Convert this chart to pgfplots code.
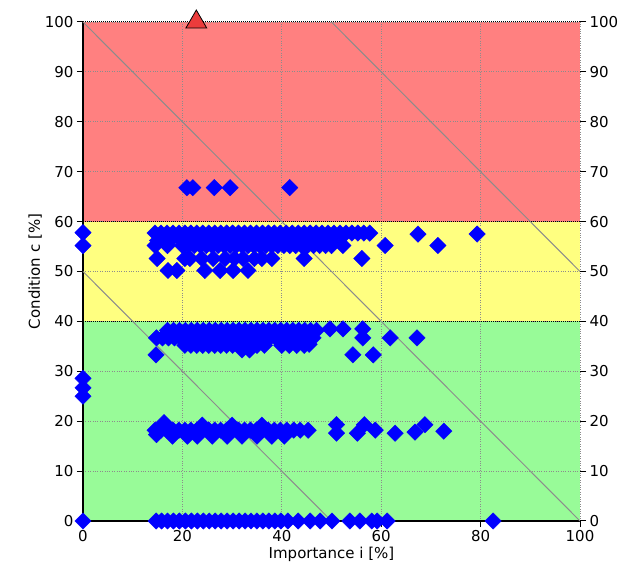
\documentclass[border=0pt]{standalone}
\usepackage{fontspec}
\setmainfont{DejaVu Sans}
\usepackage{pgfplots}
\pgfplotsset{compat=1.18}
\definecolor{bandred}{RGB}{255,128,128}
\definecolor{bandyel}{RGB}{255,255,128}
\definecolor{bandgrn}{RGB}{152,251,152}
\definecolor{diag}{RGB}{140,140,140}
\definecolor{tri}{RGB}{235,60,60}
\pgfplotsset{
  layers/mylayers/.define layer set={axis background,axis grid,main,axis ticks,axis lines,axis tick labels,axis descriptions,axis foreground}{},
}
\begin{document}
\begin{tikzpicture}
\begin{axis}[
  name=main,
  set layers=mylayers,
  scale only axis, width=497pt, height=499pt,
  xmin=0, xmax=100, ymin=0, ymax=100,
  clip=false,
  axis x line*=bottom, axis y line*=left,
  xtick={0,20,...,100}, ytick={0,10,...,100},
  grid=major, grid style={gray!90, dotted, line width=0.9pt},
  tick align=outside, major tick length=6pt,
  axis line style={line width=1.6pt, -},
  tick style={black, line width=1pt},
  /pgf/number format/assume math mode=true,
  ticklabel style={font=\fontsize{15}{18}\selectfont},
  label style={font=\fontsize{15}{18}\selectfont},
  xlabel={Importance i [\%]},
  ylabel={Condition c [\%]},
  xlabel style={yshift=2pt},
  ylabel style={yshift=-4pt},
]
% bands
\addplot[on layer=axis background, fill=bandgrn, draw=none] coordinates {(0,0) (100,0) (100,40) (0,40)} -- cycle;
\addplot[on layer=axis background, fill=bandyel, draw=none] coordinates {(0,40) (100,40) (100,60) (0,60)} -- cycle;
\addplot[on layer=axis background, fill=bandred, draw=none] coordinates {(0,60) (100,60) (100,100) (0,100)} -- cycle;
% boundaries
\addplot[black, densely dotted, line width=1pt, no markers] coordinates {(0,40) (100,40)};
\addplot[black, densely dotted, line width=1pt, no markers] coordinates {(0,60) (100,60)};
\addplot[black, densely dotted, line width=1pt, no markers] coordinates {(0,100) (100,100)};
% diagonals
\addplot[diag, line width=1pt, no markers] coordinates {(0,50) (50,0)};
\addplot[diag, line width=1pt, no markers] coordinates {(0,100) (100,0)};
\addplot[diag, line width=1pt, no markers] coordinates {(50,100) (100,50)};
% data points
\addplot[only marks, mark=square*, mark size=5.8pt, mark options={rotate=45, fill=blue, draw=blue}] coordinates {
(0,0) (14.7,0) (15.8,0) (17,0) (18.2,0) (19.4,0) (20.6,0) (21.8,0) (23,0) (24.2,0) (25.4,0) (26.6,0) (27.8,0) (29,0) (30.2,0) (31.4,0) (32.6,0) (33.8,0) (35,0) (36.2,0) (37.4,0) (38.6,0) (39.8,0) (41.2,0) (43.3,0) (45.7,0) (47.7,0) (50.1,0) (53.7,0) (55.7,0) (58.1,0) (59.2,0) (61.2,0) (82.5,0)
(14.5,18.2) (15.7,18.2) (16.9,18.2) (18.1,18.2) (19.3,18.2) (20.5,18.2) (21.7,18.2) (22.9,18.2) (24.1,18.2) (25.3,18.2) (26.5,18.2) (27.7,18.2) (28.9,18.2) (30.1,18.2) (31.3,18.2) (32.5,18.2) (33.7,18.2) (34.9,18.2) (36.1,18.2) (37.3,18.2) (38.5,18.2) (39.7,18.2) (41,18.2) (42.4,18.2) (43.7,18.2) (45.3,18.2)
(16.3,19.7) (24,19.2) (30,19.2) (36,19.2)
(14.8,17.3) (18,17) (21,17) (23,17) (26,17) (29,17) (32,17) (35,17) (38,17) (40.5,17)
(51,19.3) (51,17.6) (55.2,17.6) (56.6,19.3) (58.8,18.2) (62.8,17.6) (66.8,17.8) (68.8,19.3) (72.6,18)
(0,25) (0,26.7) (0,28.6) (0,55.2) (0,57.8)
(17,38.2) (18.2,38.2) (19.4,38.2) (20.6,38.2) (21.8,38.2) (23,38.2) (24.2,38.2) (25.4,38.2) (26.6,38.2) (27.8,38.2) (29,38.2) (30.2,38.2) (31.4,38.2) (32.6,38.2) (33.8,38.2) (35,38.2) (36.2,38.2) (37.4,38.2) (38.6,38.2) (39.8,38.2) (41,38.2) (42.2,38.2) (43.4,38.2) (44.6,38.2) (45.8,38.2) (47,38.2) (49.7,38.5) (52.3,38.5) (56.3,38.5)
(14.8,36.7) (16,36.7) (17.2,36.7) (18.4,36.7) (19.6,36.7) (20.8,36.7) (22,36.7) (23.2,36.7) (24.4,36.7) (25.6,36.7) (26.8,36.7) (28,36.7) (29.2,36.7) (30.4,36.7) (31.6,36.7) (32.8,36.7) (34,36.7) (35.2,36.7) (36.4,36.7) (37.6,36.7) (38.8,36.7) (40,36.7) (41.2,36.7) (42.4,36.7) (43.6,36.7) (44.8,36.7) (46.3,36.7) (56.3,36.7) (61.8,36.7) (67.2,36.7)
(20.5,35.2) (21.7,35.2) (22.9,35.2) (24.1,35.2) (25.3,35.2) (26.5,35.2) (27.7,35.2) (28.9,35.2) (30.1,35.2) (31.3,35.2) (35,35.2) (36.5,35.2) (40,35.2) (41.5,35.2) (43,35.2) (44.5,35.2) (45.5,35.4)
(32,34.3) (33.5,34.3)
(14.7,33.3) (54.3,33.3) (58.4,33.3)
(14.5,57.7) (15.7,57.7) (16.9,57.7) (18.1,57.7) (19.3,57.7) (20.5,57.7) (21.7,57.7) (22.9,57.7) (24.1,57.7) (25.3,57.7) (26.5,57.7) (27.7,57.7) (28.9,57.7) (30.1,57.7) (31.3,57.7) (32.5,57.7) (33.7,57.7) (34.9,57.7) (36.1,57.7) (37.3,57.7) (38.5,57.7) (39.7,57.7) (40.9,57.7) (42.1,57.7) (43.3,57.7) (44.5,57.7) (45.7,57.7) (46.9,57.7) (48.1,57.7) (49.3,57.7) (50.5,57.7) (51.7,57.7) (52.9,57.7) (54.1,57.7) (55.3,57.7) (56.5,57.7) (57.7,57.7) (67.4,57.5) (79.3,57.5)
(15,56.2) (17.5,56.2) (20,56.2) (22.5,56.2) (25,56.2) (27.5,56.2) (30,56.2) (32.5,56.2) (35,56.2) (37.5,56.2) (40,56.2) (42.5,56.2) (45,56.2) (47.5,56.2) (50,56.2)
(14.5,55.2) (17,55.2) (20,55.2) (21.2,55.2) (22.4,55.2) (23.6,55.2) (24.8,55.2) (26,55.2) (27.2,55.2) (28.4,55.2) (29.6,55.2) (30.8,55.2) (32,55.2) (33.2,55.2) (34.4,55.2) (35.6,55.2) (36.8,55.2) (38,55.2) (39.2,55.2) (40.4,55.2) (41.6,55.2) (42.8,55.2) (44,55.2) (45.2,55.2) (46.4,55.2) (47.6,55.2) (48.8,55.2) (50,55.2) (52.3,55.2) (60.8,55.2) (71.4,55.2)
(14.9,52.6) (20.5,52.6) (21.5,52.6) (23.9,52.6) (26.2,52.6) (28.6,52.6) (30.5,52.6) (32.2,52.6) (34.5,52.6) (36,52.6) (38,52.6) (44.5,52.6) (56.1,52.6)
(17.1,50.2) (18.9,50.2) (24.5,50.2) (27.6,50.2) (30.2,50.2) (33.2,50.2)
(20.9,66.8) (22.1,66.8) (26.4,66.8) (29.6,66.8) (41.6,66.8)
};
\addplot[only marks, mark=triangle*, mark size=12pt, mark options={fill=tri, draw=black, line width=0.8pt}] coordinates {(22.8,100)};
\end{axis}
\begin{axis}[
  scale only axis, width=497pt, height=499pt,
  xmin=0, xmax=100, ymin=0, ymax=100,
  axis x line=none, axis y line*=right,
  ytick={0,10,...,100},
  tick align=outside, major tick length=6pt,
  y axis line style={draw=none},
  tick style={black, line width=1pt},
  /pgf/number format/assume math mode=true,
  ticklabel style={font=\fontsize{15}{18}\selectfont},
]
\addplot[draw=none] coordinates {(0,0)};
\end{axis}
\path (main.south west) ++(-83pt,-56pt) coordinate (bl);
\path (main.north east) ++(56pt,22pt) coordinate (tr);
\path (bl) rectangle (tr);
\end{tikzpicture}
\end{document}
